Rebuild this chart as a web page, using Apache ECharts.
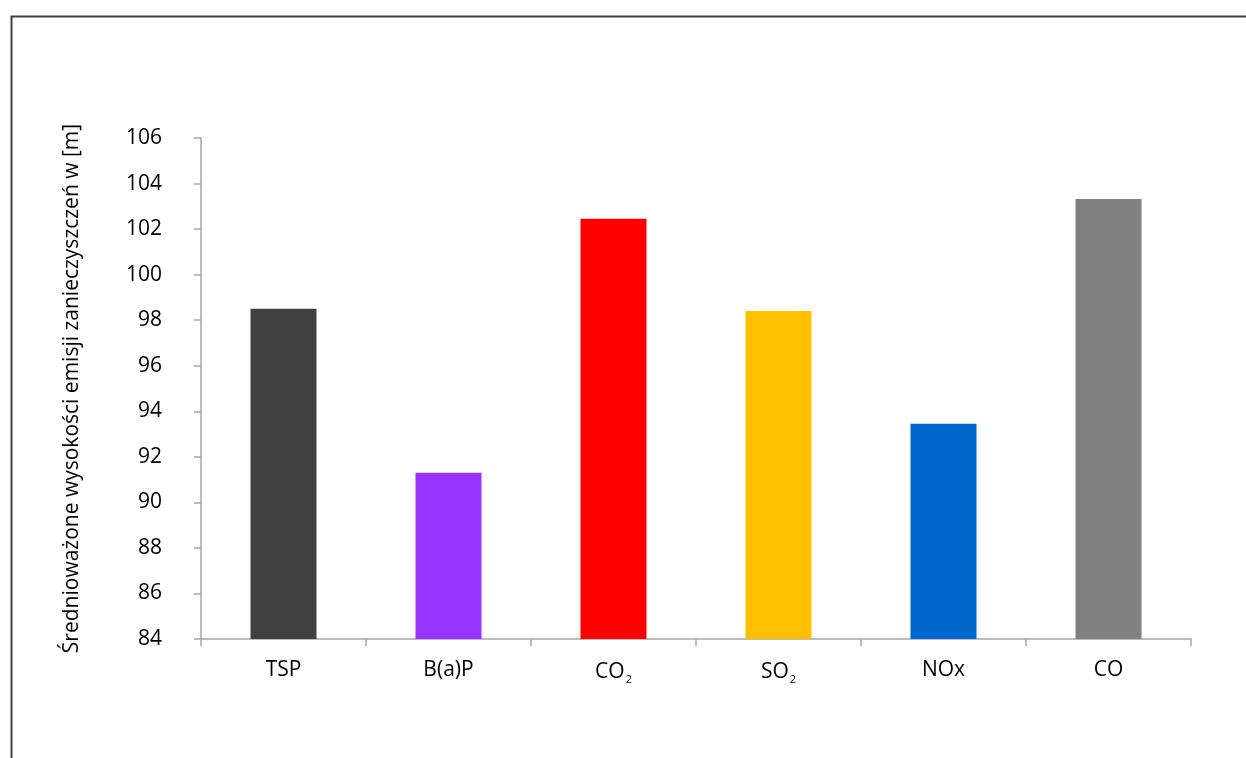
<!DOCTYPE html>
<html>
<head>
<meta charset="utf-8">
<script src="https://cdn.jsdelivr.net/npm/echarts@6/dist/echarts.min.js"></script>
<style>
  html, body { margin: 0; padding: 0; background: #fff; }
  #chart { width: 1246px; height: 758px; }
</style>
</head>
<body>
<div id="chart"></div>
<script>
// Pollutant categories (a trailing digit is drawn as a subscript)
const categories = ['TSP', 'B(a)P', 'CO2', 'SO2', 'NOx', 'CO'];
// Weighted-average emission heights in metres
const heights = [98.5, 91.3, 102.45, 98.4, 93.45, 103.32];
const barColors = ['#404040', '#9933FF', '#FF0000', '#FFC000', '#0066CC', '#808080'];
const yMin = 84, yMax = 106, yStep = 2;
const yTitle = 'Średnioważone wysokości emisji zanieczyszczeń w [m]';

const FONT = '"Open Sans", "Liberation Sans", sans-serif';
const chart = echarts.init(document.getElementById('chart'), null, { renderer: 'canvas' });

function catLabel(v) {
  const m = /^(.*?)(\d)$/.exec(v);
  if (m) return '{n|' + m[1] + '}{s|' + m[2] + '}';
  return '{n|' + v + '}';
}

chart.setOption({
  backgroundColor: '#fff',
  animation: false,
  graphic: [{
    type: 'rect',
    left: 9, top: 14,
    shape: { width: 1300, height: 800 },
    style: { fill: 'none', stroke: '#404040', lineWidth: 2 },
    silent: true
  }],
  grid: { left: 201, top: 138, right: 55, bottom: 119, containLabel: false },
  xAxis: {
    type: 'category',
    data: categories,
    axisLine: { lineStyle: { color: '#a6a6a6', width: 1.5 } },
    axisTick: { show: true, length: 7, lineStyle: { color: '#a6a6a6', width: 1.5 } },
    axisLabel: {
      margin: 21,
      formatter: catLabel,
      rich: {
        n: { fontFamily: FONT, fontSize: 21, color: '#000' },
        s: { fontFamily: FONT, fontSize: 11, color: '#000', padding: [14, 0, 0, 1] }
      }
    },
    splitLine: { show: false }
  },
  yAxis: {
    type: 'value',
    min: yMin, max: yMax, interval: yStep,
    name: yTitle,
    nameLocation: 'middle',
    nameRotate: 90,
    nameGap: 118,
    nameTextStyle: { fontFamily: FONT, fontSize: 21, color: '#000' },
    axisLine: { show: true, lineStyle: { color: '#a6a6a6', width: 1.5 } },
    axisTick: { show: true, length: 7, lineStyle: { color: '#a6a6a6', width: 1.5 } },
    axisLabel: { margin: 39, fontFamily: FONT, fontSize: 21, color: '#000' },
    splitLine: { show: false }
  },
  series: [{
    type: 'bar',
    data: heights.map((v, i) => ({ value: v, itemStyle: { color: barColors[i] } })),
    barCategoryGap: '60%',
    barWidth: '40%'
  }]
});
</script>
</body>
</html>
